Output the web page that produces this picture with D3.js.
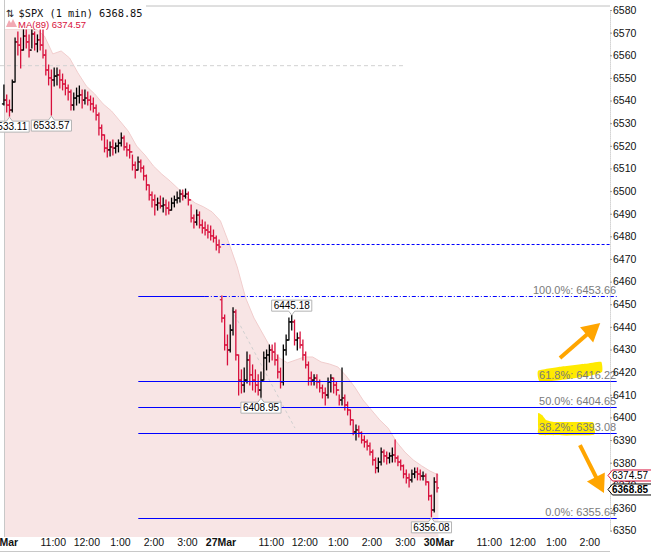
<!DOCTYPE html>
<html>
<head>
<meta charset="utf-8">
<script src="https://cdn.jsdelivr.net/npm/d3@7"></script>
<style>
  body { margin: 0; background: #fff; }
  svg { display: block; font-family: "Liberation Sans", Arial, sans-serif; }
</style>
</head>
<body>
<div id="chart"></div>
<script>
// ---- data ----
var dayNames = ['26Mar', '27Mar', '30Mar'];
var hourLabels = ['11:00', '12:00', '1:00', '2:00', '3:00'];
var hourMinutes = [90, 150, 210, 270, 330]; // minutes after the 9:30 open

// price bars, one every 5 minutes
var day1Highs = [
  6546.9, 6542.5, 6540.2, 6549.1, 6567.6, 6570.3, 6567.6, 6571.2, 6571.2, 6569.0,
  6571.2, 6570.3, 6569.0, 6571.2, 6571.2, 6562.3, 6555.7, 6553.5, 6554.4, 6554.4,
  6553.5, 6551.7, 6549.1, 6546.9, 6544.7, 6543.3, 6545.5, 6546.4, 6544.7, 6544.7,
  6543.8, 6542.0, 6541.1, 6538.0, 6534.5, 6529.2, 6524.8, 6522.6, 6521.7, 6522.6,
  6521.2, 6522.6, 6525.7, 6524.3, 6521.2, 6520.4, 6515.9, 6512.9, 6515.1, 6513.7,
  6511.1, 6507.1, 6502.7, 6499.6, 6498.3, 6496.9, 6497.8, 6496.9, 6496.1, 6495.2,
  6496.9, 6497.8, 6499.6, 6500.5, 6500.5, 6500.9, 6499.6, 6493.9, 6489.4, 6491.6,
  6490.8, 6487.2, 6486.3, 6485.0, 6484.6, 6482.8, 6480.2, 6478.4];
var day1Lows = [
  6538.0, 6534.9, 6533.11, 6534.9, 6548.2, 6560.1, 6554.4, 6562.3, 6563.2, 6559.2,
  6563.2, 6562.3, 6561.5, 6562.3, 6558.8, 6551.3, 6546.9, 6533.57, 6546.4, 6546.9,
  6545.5, 6544.7, 6542.5, 6540.2, 6535.8, 6535.8, 6538.0, 6538.9, 6536.7, 6538.5,
  6538.0, 6535.8, 6534.9, 6531.4, 6524.8, 6522.6, 6517.3, 6515.1, 6515.5, 6515.9,
  6516.8, 6517.3, 6519.9, 6518.2, 6515.5, 6514.6, 6509.3, 6505.8, 6509.3, 6508.4,
  6504.9, 6500.5, 6496.1, 6493.0, 6489.4, 6491.6, 6492.5, 6490.8, 6489.4, 6489.9,
  6491.6, 6493.0, 6494.7, 6495.2, 6496.1, 6496.9, 6493.9, 6486.3, 6483.7, 6485.0,
  6483.7, 6481.5, 6480.6, 6479.3, 6478.4, 6477.5, 6474.0, 6472.7];
var day1Closes = [
  6540.2, 6538.0, 6535.8, 6548.2, 6565.9, 6564.5, 6562.3, 6568.5, 6565.9, 6562.3,
  6569.4, 6565.0, 6566.8, 6564.5, 6560.1, 6553.5, 6550.0, 6549.1, 6550.8, 6551.3,
  6549.1, 6547.3, 6545.5, 6543.8, 6538.0, 6541.1, 6542.0, 6542.5, 6540.2, 6541.1,
  6540.2, 6538.5, 6536.7, 6533.6, 6527.9, 6524.8, 6519.0, 6518.2, 6519.5, 6519.0,
  6519.9, 6521.2, 6523.5, 6519.5, 6518.2, 6517.3, 6511.5, 6509.3, 6512.9, 6510.2,
  6506.7, 6502.7, 6498.3, 6496.1, 6493.9, 6494.7, 6493.4, 6493.9, 6492.5, 6491.6,
  6494.7, 6496.1, 6496.9, 6498.7, 6497.8, 6498.7, 6496.1, 6488.1, 6486.3, 6489.4,
  6485.0, 6483.7, 6482.8, 6481.9, 6480.2, 6479.3, 6476.2, 6475.3];
var day2Highs = [
  6453.66, 6445.3, 6436.4, 6440.8, 6448.4, 6447.5, 6427.6, 6421.0, 6421.8, 6428.9,
  6427.6, 6423.2, 6421.0, 6418.8, 6420.1, 6428.9, 6429.8, 6432.0, 6432.0, 6432.9,
  6427.6, 6421.8, 6432.0, 6436.4, 6443.9, 6445.18, 6443.0, 6437.3, 6437.7, 6434.2,
  6428.9, 6424.5, 6420.1, 6418.8, 6418.8, 6416.5, 6414.3, 6413.0, 6417.4, 6418.8,
  6417.4, 6415.7, 6409.9, 6421.8, 6409.9, 6406.8, 6403.3, 6398.9, 6396.7, 6396.2,
  6393.6, 6391.8, 6390.0, 6388.7, 6385.6, 6382.1, 6382.1, 6386.5, 6385.6, 6384.7,
  6384.3, 6386.5, 6390.0, 6383.0, 6381.2, 6379.0, 6376.8, 6375.0, 6376.8, 6377.7,
  6377.7, 6376.8, 6375.9, 6375.0, 6371.5, 6365.7, 6373.3, 6375.0];
var day2Lows = [
  6442.2, 6429.8, 6423.2, 6428.9, 6436.4, 6425.4, 6409.9, 6410.8, 6411.2, 6415.2,
  6414.3, 6412.1, 6411.2, 6409.9, 6408.95, 6416.5, 6421.0, 6424.5, 6425.4, 6423.2,
  6417.4, 6413.0, 6414.3, 6427.6, 6434.2, 6438.6, 6432.0, 6429.8, 6430.7, 6425.4,
  6421.8, 6414.3, 6414.3, 6414.3, 6413.0, 6411.2, 6408.6, 6405.5, 6408.6, 6411.2,
  6410.8, 6409.9, 6405.5, 6405.5, 6403.3, 6401.1, 6396.7, 6392.3, 6390.0, 6391.4,
  6388.7, 6386.9, 6385.6, 6383.4, 6379.0, 6375.5, 6375.9, 6379.0, 6380.3, 6379.4,
  6379.9, 6380.3, 6380.3, 6378.6, 6376.8, 6373.3, 6371.0, 6369.3, 6371.5, 6373.3,
  6372.4, 6372.4, 6372.4, 6370.2, 6363.5, 6356.08, 6358.2, 6367.1];
var day2Closes = [
  6443.9, 6432.0, 6429.8, 6438.6, 6446.6, 6427.6, 6416.5, 6414.3, 6416.5, 6425.4,
  6418.8, 6416.5, 6414.3, 6412.1, 6416.5, 6426.3, 6427.6, 6429.8, 6428.9, 6425.4,
  6420.1, 6415.7, 6429.8, 6434.2, 6442.2, 6442.2, 6434.2, 6435.1, 6432.0, 6427.6,
  6423.2, 6417.4, 6416.5, 6417.4, 6415.7, 6413.0, 6410.8, 6409.9, 6415.7, 6417.4,
  6414.3, 6412.1, 6407.7, 6408.6, 6405.5, 6403.3, 6398.9, 6393.6, 6394.5, 6393.1,
  6390.0, 6389.2, 6387.4, 6384.7, 6381.2, 6377.7, 6380.3, 6384.7, 6383.0, 6382.1,
  6383.0, 6383.4, 6382.1, 6380.3, 6378.6, 6375.0, 6373.3, 6372.4, 6375.0, 6375.9,
  6375.0, 6374.1, 6374.1, 6371.5, 6365.3, 6359.1, 6371.5, 6368.85];
var dayOpens = [6538.5, 6452.0];

// MA(89), one value every 15 minutes over both sessions
var maValues = [
  6571.6, 6571.6, 6571.6, 6571.6, 6571.6, 6568.5, 6560.6, 6561.9, 6558.8, 6552.2,
  6546.4, 6542.9, 6538.5, 6535.4, 6531.0, 6526.5, 6519.9, 6515.9, 6511.1, 6507.5,
  6504.4, 6500.9, 6497.4, 6494.7, 6493.0, 6490.8, 6486.8, 6477.1, 6466.5, 6452.8,
  6443.9, 6437.3, 6430.7, 6426.3, 6424.1, 6425.4, 6426.7, 6426.7, 6424.5, 6423.6,
  6422.3, 6418.3, 6413.5, 6407.7, 6403.3, 6398.9, 6395.3, 6389.2, 6384.7, 6381.2,
  6378.6, 6376.3, 6374.57];

// fibonacci retracement
var fibNames = ['100.0%', '61.8%', '50.0%', '38.2%', '0.0%'];
var fibValues = [6453.66, 6416.22, 6404.65, 6393.08, 6355.64];

// callouts on swing highs / lows
var calloutDays = [0, 0, 1, 1, 1];
var calloutBars = [2, 17, 25, 14, 75];
var calloutValues = [6533.11, 6533.57, 6445.18, 6408.95, 6356.08];
var calloutSides = ['below', 'below', 'above', 'below', 'below'];

var lastPrice = 6368.85;
var lastMA = 6374.57;
var priorLevel = 6476.5;   // blue dashed
var greyLevel = 6555.4;    // grey dashed

// Set Width and Height
var svgWidth = 651;
var svgHeight = 553;
var plotLeft = 4.5, plotRight = 610, plotTop = 6, plotBottom = 537;
var barMinutes = 5, dayMinutes = 390;
var upColor = '#000', downColor = '#d8103c';
var fibColor = '#0000ff';

var x = d3.scaleLinear().domain([0, 1087]).range([2.5, plotRight]);
var y = d3.scaleLinear().domain([6350, 6580]).range([530.6, 10]);

var svg = d3.select('#chart')
  .append('svg')
  .attr('width', svgWidth)
  .attr('height', svgHeight);

svg.append('clipPath').attr('id', 'plotClip')
  .append('rect')
  .attr('x', plotLeft).attr('y', plotTop)
  .attr('width', plotRight - plotLeft).attr('height', plotBottom - plotTop);

// build bars, open = previous close
var bars = [];
[[day1Highs, day1Lows, day1Closes], [day2Highs, day2Lows, day2Closes]].forEach(function (day, d) {
  var prev = dayOpens[d];
  day[2].forEach(function (c, i) {
    bars.push({
      t: d * dayMinutes + i * barMinutes + barMinutes / 2,
      open: prev, high: day[0][i], low: day[1][i], close: c
    });
    prev = c;
  });
});

// MA shaded area
var maArea = d3.area()
  .x((d, i) => x(i * 15))
  .y0(plotBottom)
  .y1(d => y(d));
var maLine = d3.line()
  .x((d, i) => x(i * 15))
  .y(d => y(d));

svg.append('path')
  .datum(maValues)
  .attr('clip-path', 'url(#plotClip)')
  .attr('d', maArea)
  .attr('fill', '#f8e5e5');
svg.append('path')
  .datum(maValues)
  .attr('clip-path', 'url(#plotClip)')
  .attr('d', maLine)
  .attr('fill', 'none')
  .attr('stroke', '#f1cdcd');

// frame
svg.append('line').attr('x1', plotLeft).attr('x2', plotLeft).attr('y1', 0).attr('y2', plotBottom)
  .attr('stroke', '#c8c8c8');
svg.append('line').attr('x1', plotLeft).attr('x2', plotRight).attr('y1', plotTop).attr('y2', plotTop)
  .attr('stroke', '#c0c0c0');
svg.append('line').attr('x1', 0).attr('x2', plotRight).attr('y1', 551.5).attr('y2', 551.5)
  .attr('stroke', '#c8c8c8');

// yellow highlighter marks behind two fib labels
var highlightLevels = [6416.22, 6393.08];
var highlightShapes = [
  [[-78, -10], [-56, -14], [-31, -17], [-15, -19], [-14, -9], [-26, -5], [-46, -2], [-76, 1]],
  [[-78, -20], [-74, -18], [-70, -13], [-61, -11], [-24, -11], [-22, -5], [-23, 2], [-76, 2], [-78, -5]]
];
var fibLabelX = x(1098);
var blob = d3.line().curve(d3.curveCardinalClosed.tension(0.6));
highlightLevels.forEach(function (v, k) {
  var ly = y(v);
  svg.append('path')
    .attr('d', blob(highlightShapes[k].map(p => [fibLabelX + p[0], ly + p[1]])))
    .attr('fill', '#ffea00');
});

// grey dashed level
svg.append('line')
  .attr('x1', x(-4.5)).attr('x2', x(720))
  .attr('y1', y(greyLevel)).attr('y2', y(greyLevel))
  .attr('stroke', '#d2d2d2')
  .attr('stroke-dasharray', '4,3');

// faint dashed trend line
var trendPoints = [[410.6, 6447.5], [523.3, 6395.3]];
svg.append('line')
  .attr('x1', x(trendPoints[0][0])).attr('y1', y(trendPoints[0][1]))
  .attr('x2', x(trendPoints[1][0])).attr('y2', y(trendPoints[1][1]))
  .attr('stroke', '#d0d0d0')
  .attr('stroke-dasharray', '3,3');

// price bars
var barGroup = svg.append('g')
  .selectAll('g')
  .data(bars)
  .enter()
  .append('g')
  .attr('stroke', d => d.close < d.open ? downColor : upColor)
  .attr('stroke-width', 1.3);

barGroup.append('line')
  .attr('x1', d => x(d.t)).attr('x2', d => x(d.t))
  .attr('y1', d => y(d.high) - 0.5).attr('y2', d => y(d.low) + 0.5);
barGroup.append('line')
  .attr('x1', d => x(d.t) - 2).attr('x2', d => x(d.t))
  .attr('y1', d => y(d.open)).attr('y2', d => y(d.open));
barGroup.append('line')
  .attr('x1', d => x(d.t)).attr('x2', d => x(d.t) + 2)
  .attr('y1', d => y(d.close)).attr('y2', d => y(d.close));

// blue dashed level from the 27Mar open
svg.append('line')
  .attr('x1', x(392)).attr('x2', x(1087))
  .attr('y1', Math.round(y(priorLevel)) + 0.5).attr('y2', Math.round(y(priorLevel)) + 0.5)
  .attr('stroke', fibColor)
  .attr('stroke-dasharray', '3,2');

// fibonacci lines
var fibStart = 243, fibAnchorEnd = 362, fibEnd = 1099;
fibValues.forEach(function (v, k) {
  var ly = Math.round(y(v)) + 0.5;
  if (k === 0) {
    svg.append('line')
      .attr('x1', x(fibStart)).attr('x2', x(fibAnchorEnd))
      .attr('y1', ly).attr('y2', ly)
      .attr('stroke', fibColor);
    svg.append('line')
      .attr('x1', x(fibAnchorEnd)).attr('x2', x(fibEnd))
      .attr('y1', ly).attr('y2', ly)
      .attr('stroke', fibColor)
      .attr('stroke-dasharray', '4,2,1,2');
  } else {
    svg.append('line')
      .attr('x1', x(fibStart)).attr('x2', x(fibEnd))
      .attr('y1', ly).attr('y2', ly)
      .attr('stroke', fibColor);
  }
  svg.append('text')
    .attr('x', fibLabelX)
    .attr('y', ly - 3)
    .attr('text-anchor', 'end')
    .attr('font-size', '11px')
    .attr('fill', '#7a7a7a')
    .text(`${fibNames[k]}: ${v.toFixed(2)}`);
});

// callout boxes
calloutValues.forEach(function (v, k) {
  var cx = x(calloutDays[k] * dayMinutes + calloutBars[k] * barMinutes + barMinutes / 2);
  var py = y(v);
  var g = svg.append('g');
  var txt = g.append('text')
    .attr('font-size', '10px')
    .attr('text-anchor', 'middle')
    .attr('x', cx)
    .text(v.toFixed(2));
  var w = txt.node().getComputedTextLength() + 4;
  var h = 11;
  var top = calloutSides[k] === 'below' ? py + 5 : py - 4 - h;
  var x0 = cx - w / 2, x1 = cx + w / 2;
  var notch = calloutSides[k] === 'below'
    ? [[x0, top], [cx - 3, top], [cx, top - 4], [cx + 3, top], [x1, top], [x1, top + h], [x0, top + h]]
    : [[x0, top], [x1, top], [x1, top + h], [cx + 3, top + h], [cx, top + h + 4], [cx - 3, top + h], [x0, top + h]];
  g.insert('path', 'text')
    .attr('d', d3.line()(notch) + 'Z')
    .attr('fill', '#fff')
    .attr('stroke', '#b4b4b4');
  txt.attr('y', top + 9);
});

// orange arrows
var arrowStarts = [[997.5, 6426.3], [1033.2, 6387.8]];
var arrowTips = [[1069.5, 6441.7], [1076.2, 6366.6]];
arrowStarts.forEach(function (s, k) {
  var sx = x(s[0]), sy = y(s[1]);
  var tx = x(arrowTips[k][0]), ty = y(arrowTips[k][1]);
  var len = Math.hypot(tx - sx, ty - sy);
  var ux = (tx - sx) / len, uy = (ty - sy) / len;
  var bx = tx - ux * 18, by = ty - uy * 18;
  svg.append('line')
    .attr('x1', sx).attr('y1', sy)
    .attr('x2', bx + ux * 2).attr('y2', by + uy * 2)
    .attr('stroke', '#ffa500')
    .attr('stroke-width', 4);
  svg.append('path')
    .attr('d', d3.line()([[tx, ty], [bx - uy * 10, by + ux * 10], [bx + uy * 10, by - ux * 10]]) + 'Z')
    .attr('fill', '#ffa500');
});

// y axis on the right
var yAxis = svg.append('g')
  .attr('transform', `translate(${plotRight}, 0)`)
  .call(d3.axisRight(y).tickValues(d3.range(6350, 6581, 10)).tickSize(2).tickPadding(1)
    .tickFormat(d3.format('d')));
yAxis.select('.domain').attr('stroke', '#b8b8b8').attr('stroke-dasharray', '1,1');
yAxis.selectAll('.tick line').attr('stroke', '#999');
yAxis.selectAll('text')
  .attr('font-family', '"Liberation Sans", Arial, sans-serif')
  .attr('font-size', '10.5px')
  .attr('fill', '#111');

// x axis
var xTicks = [];
var xTickText = [];
dayNames.forEach(function (name, d) {
  xTicks.push(d * dayMinutes);
  xTickText.push(name);
  hourMinutes.forEach(function (m, k) {
    if (d * dayMinutes + m < 1087) {
      xTicks.push(d * dayMinutes + m);
      xTickText.push(hourLabels[k]);
    }
  });
});
var xAxis = svg.append('g')
  .attr('transform', `translate(0, ${plotBottom})`)
  .call(d3.axisBottom(x).tickValues(xTicks).tickSize(0).tickPadding(2)
    .tickFormat((d, i) => xTickText[i]));
xAxis.select('.domain').remove();
xAxis.selectAll('text')
  .attr('font-family', '"Liberation Sans", Arial, sans-serif')
  .attr('font-size', '10.5px')
  .attr('fill', '#111')
  .attr('font-weight', (d, i) => dayNames.indexOf(xTickText[i]) >= 0 ? 'bold' : 'normal');

// legend
svg.append('rect')
  .attr('x', plotLeft + 0.5).attr('y', 0)
  .attr('width', 141).attr('height', 29)
  .attr('fill', '#fff');
svg.append('text')
  .attr('x', 6).attr('y', 17)
  .attr('font-family', '"DejaVu Sans", sans-serif')
  .attr('font-size', '10px')
  .attr('fill', '#222')
  .text('⇅');
svg.append('text')
  .attr('x', 18.5).attr('y', 17)
  .attr('font-family', '"DejaVu Sans Mono", monospace')
  .attr('font-size', '10.3px')
  .attr('fill', '#111')
  .text(`$SPX (1 min) ${lastPrice.toFixed(2)}`);
svg.append('path')
  .attr('d', 'M6,27 L9,20 L11,23 L13,19 L17,27 Z')
  .attr('fill', '#f2a9b3');
svg.append('text')
  .attr('x', 18).attr('y', 28)
  .attr('font-size', '9.5px')
  .attr('fill', downColor)
  .text(`MA(89) ${lastMA.toFixed(2)}`);

// price tags on the axis
var maTagY = y(lastMA) + 0.5;
var priceTagY = Math.max(y(lastPrice), maTagY + 14);
[[lastMA, maTagY, downColor, 'normal'], [lastPrice, priceTagY, '#000', 'bold']].forEach(function (tag) {
  var ty = tag[1];
  svg.append('path')
    .attr('d', d3.line()([[608, ty], [612.5, ty - 5.5], [652, ty - 5.5], [652, ty + 5.5], [612.5, ty + 5.5]]) + 'Z')
    .attr('fill', '#fff')
    .attr('stroke', tag[2]);
  svg.append('text')
    .attr('x', 612).attr('y', ty + 3.6)
    .attr('font-size', '10px')
    .attr('font-weight', tag[3])
    .attr('fill', '#000')
    .text(tag[0].toFixed(2));
});
</script>
</body>
</html>
